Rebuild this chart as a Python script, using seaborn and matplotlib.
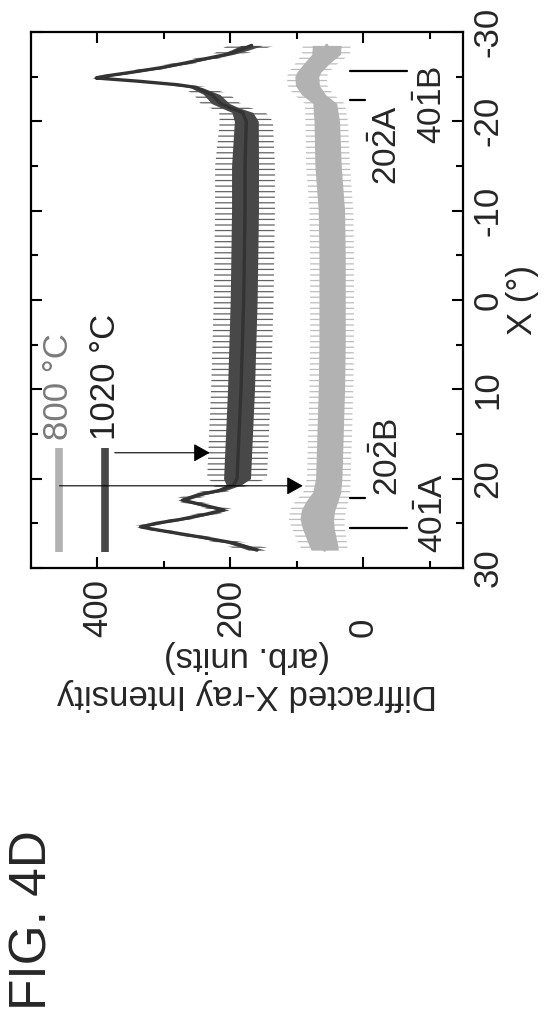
import matplotlib
matplotlib.use('Agg')
import matplotlib.pyplot as plt
import numpy as np
import pandas as pd
import seaborn as sns

# chi scan after 1020 C anneal (dark trace): angle, mean intensity, half-width of the noise band
chi_1020 = [-28.5, -28.0, -27.5, -27.0, -26.5, -26.0, -25.5, -25.1, -24.85, -24.5, -24.1,
            -23.8, -23.0, -22.0, -21.5, -21.0, -20.0, -15.0, -10.0, -5.0, 0.0, 5.0, 10.0,
            15.0, 20.0, 20.7, 21.3, 21.8, 22.4, 23.0, 23.5, 24.0, 24.6, 25.0, 25.4, 25.8,
            26.6, 27.2, 28.0]
int_1020 = [168, 185, 205, 238, 270, 305, 348, 385, 402, 340, 280, 252, 228, 215, 200,
            182, 176, 178, 178, 179, 180, 182, 184, 187, 190, 195, 215, 248, 272, 238,
            210, 238, 278, 312, 335, 305, 240, 195, 160]
noise_1020 = [36, 30, 22, 18, 18, 18, 17, 15, 14, 15, 17, 20, 27, 30, 30, 35, 40, 45, 45,
              45, 45, 45, 45, 45, 45, 25, 20, 18, 16, 18, 18, 18, 16, 15, 14, 15, 18, 22, 28]

# chi scan after 800 C anneal (light trace)
chi_800 = [-28.5, -27.5, -26.5, -25.5, -25.0, -24.0, -23.0, -22.0, -20.0, -15.0, -10.0,
           -5.0, 0.0, 5.0, 10.0, 15.0, 20.0, 21.5, 22.5, 23.5, 24.5, 25.5, 26.5, 27.5, 28.0]
int_800 = [55, 56, 70, 82, 85, 84, 75, 58, 55, 53, 48, 47, 47, 47, 48, 50, 52, 55, 62,
           68, 70, 68, 64, 60, 58]
noise_800 = [36, 36, 32, 30, 30, 30, 30, 30, 32, 33, 33, 33, 33, 33, 33, 33, 33, 35, 40,
             42, 42, 40, 38, 36, 34]

# reflection markers and their labels
refl_chi = [-22.4, -25.6, 22.2, 25.5]
refl_low = [-3, -66, -3, -66]
refl_names = [r'$\mathrm{20\bar{2}A}$', r'$\mathrm{40\bar{1}B}$',
              r'$\mathrm{20\bar{2}B}$', r'$\mathrm{40\bar{1}A}$']
refl_label_chi = [-17.3, -21.8, 17.6, 23.9]
refl_label_int = [-36, -104, -38, -105]

dark = '#484848'
light = '#b2b2b2'

sns.set_style('ticks')
plt.rcParams['font.family'] = ['Liberation Sans', 'DejaVu Sans']
plt.rcParams['axes.unicode_minus'] = False
plt.rcParams['mathtext.fontset'] = 'custom'
plt.rcParams['mathtext.rm'] = 'Liberation Sans'
plt.rcParams['hatch.linewidth'] = 0.9

# the page is printed sideways, so intensity runs along the horizontal and chi down the page
fig = plt.figure(figsize=(5.44, 10.18), dpi=100)
ax = fig.add_axes([31 / 544, 1 - 568 / 1018, 432 / 544, 536 / 1018])

df = pd.concat([
    pd.DataFrame({'chi': chi_800, 'intensity': int_800, 'noise': noise_800, 'T': '800'}),
    pd.DataFrame({'chi': chi_1020, 'intensity': int_1020, 'noise': noise_1020, 'T': '1020'}),
], ignore_index=True)

for T, color, core in [('800', light, 0.6), ('1020', dark, 0.45)]:
    d = df[df['T'] == T]
    # noise spikes: thin strokes across the band
    ax.fill_betweenx(d['chi'], d['intensity'] - d['noise'], d['intensity'] + d['noise'],
                     facecolor='none', edgecolor=color, hatch='---', lw=0, alpha=0.85)
    ax.fill_betweenx(d['chi'], d['intensity'] - core * d['noise'],
                     d['intensity'] + core * d['noise'], color=color, lw=0)

sns.lineplot(data=df, x='intensity', y='chi', hue='T', orient='y', sort=True,
             palette={'800': light, '1020': '#333333'}, lw=2.4, legend=False, ax=ax)

# reflection ticks below the traces
for c, lo in zip(refl_chi, refl_low):
    ax.plot([20, lo], [c, c], color='black', lw=1.6)
for name, c, i in zip(refl_names, refl_label_chi, refl_label_int):
    ax.text(i, c, name, rotation=90, ha='center', va='center', fontsize=24)

# hand-drawn legend
for pos, color, tcolor, label in [(458, light, '#7a7a7a', '800 °C'), (388, dark, '#222222', '1020 °C')]:
    ax.plot([pos, pos], [16.6, 28.2], color=color, lw=5.5, solid_capstyle='butt')
    ax.text(pos, 15.7, label, rotation=90, ha='center', va='bottom', fontsize=25, color=tcolor)

arrow = dict(arrowstyle='-|>,head_length=0.5,head_width=0.28', mutation_scale=20,
             lw=0.8, color='black', shrinkA=0, shrinkB=0)
ax.annotate('', xy=(231, 17.1), xytext=(374, 17.1), arrowprops=arrow)
ax.annotate('', xy=(91, 20.8), xytext=(457, 20.8), arrowprops=arrow)

ax.set_xlim(500, -150)
ax.set_ylim(30, -30)
ax.set_xticks([0, 200, 400])
ax.set_xticks([-100, 100, 300], minor=True)
ax.set_yticks(range(-30, 31, 10))
ax.set_yticks(range(-25, 30, 10), minor=True)
ax.tick_params(which='both', direction='in', top=True, bottom=True, left=True, right=True,
               width=1.5, labelsize=25, color='black')
ax.tick_params(which='major', length=8)
ax.tick_params(which='minor', length=5)
ax.tick_params(axis='y', labelleft=False, labelright=True, labelrotation=90, pad=6)
ax.tick_params(axis='x', labelrotation=90, pad=50)
plt.setp(ax.get_xticklabels(), va='bottom')
plt.setp(ax.get_yticklabels(), va='center')
for s in ax.spines.values():
    s.set_linewidth(1.6)
    s.set_color('black')

ax.set_xlabel('Diffracted X-ray Intensity\n(arb. units)', rotation=180, fontsize=25, labelpad=2)
ax.yaxis.set_label_position('right')
ax.set_ylabel('X (°)', fontsize=25, labelpad=1)

fig.text(33 / 544, 1 - 920 / 1018, 'FIG. 4D', rotation=90, fontsize=37, ha='center', va='center')

fig.savefig('out.png', dpi=100)
